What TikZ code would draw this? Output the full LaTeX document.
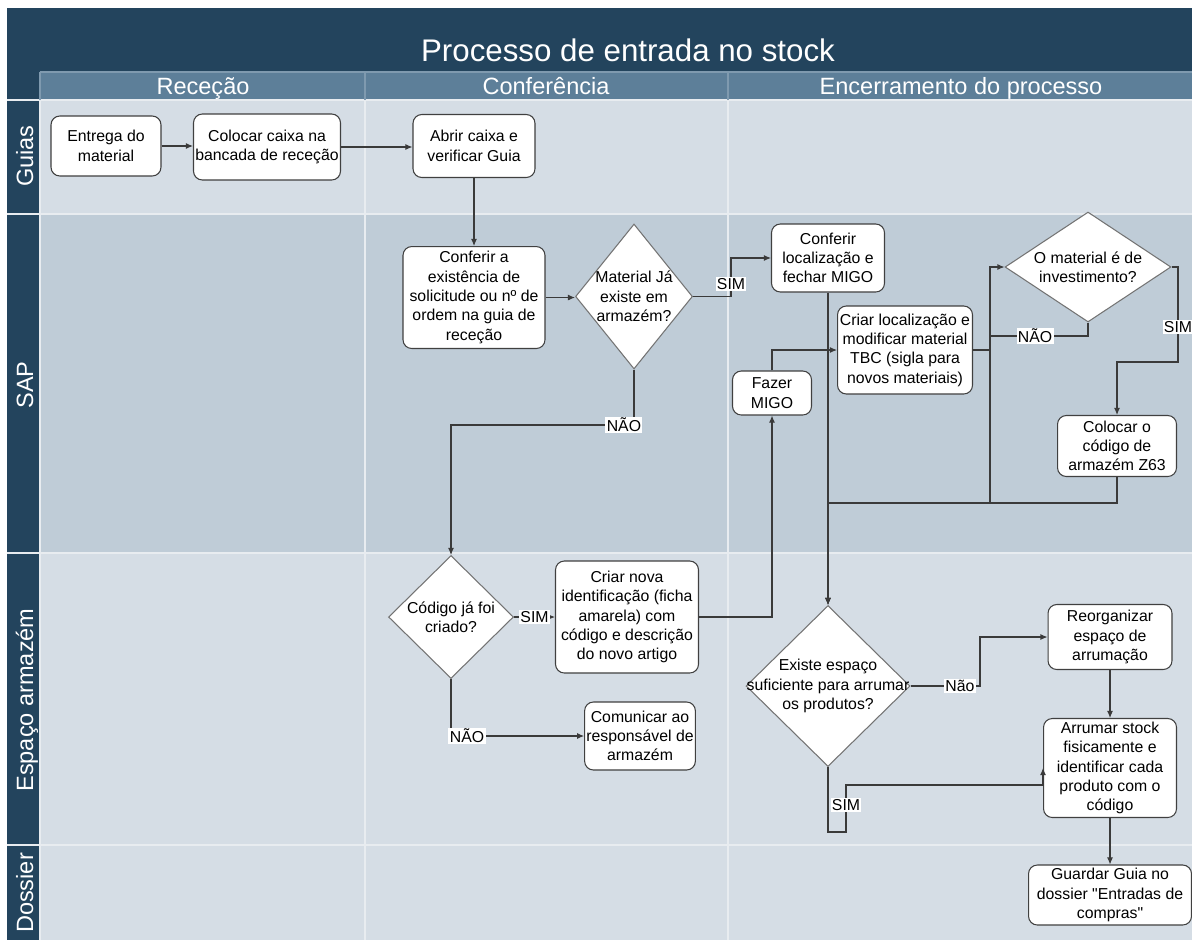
\documentclass[tikz,border=0pt]{standalone}
\usepackage{fontspec}
\setmainfont{Liberation Sans}
\usepackage{xcolor}
\usepackage{tikz}
\usetikzlibrary{shapes.geometric,arrows.meta,positioning,calc}

\definecolor{pooldark}{HTML}{23445D}
\definecolor{headfill}{HTML}{5D7F99}
\definecolor{headline}{HTML}{7F9AAF}
\definecolor{rowlight}{HTML}{D5DDE5}
\definecolor{rowdark}{HTML}{BFCCD7}
\definecolor{gridline}{HTML}{E8ECF0}
\definecolor{flowline}{HTML}{3A3A3A}

\begin{document}
\begin{tikzpicture}[
    x=0.02cm, y=-0.02cm,
    >={Latex[length=4pt, width=3.4pt]},
    box/.style={
        rectangle, draw=black!75, fill=white, rounded corners=5pt,
        align=center, inner sep=1pt, line width=0.6pt,
        font=\fontsize{9}{11}\selectfont
    },
    decision/.style={
        diamond, draw=black!55, fill=white, inner sep=0pt, line width=0.6pt
    },
    dtext/.style={align=center, font=\fontsize{9}{11}\selectfont},
    tag/.style={fill=white, inner sep=0.8pt, font=\fontsize{9}{11}\selectfont},
    flow/.style={draw=flowline, line width=0.6pt, ->},
    colhead/.style={text=white, anchor=base, font=\fontsize{13.4}{16}\selectfont},
    lanehead/.style={text=white, anchor=base, rotate=90, font=\fontsize{13.4}{16}\selectfont}
]

    % Pool frame
    \useasboundingbox (0,0) rectangle (1192,940);
    \fill[white] (0,0) rectangle (1192,940);
    \fill[pooldark] (7,8) rectangle (1192,940);
    \fill[headfill] (40,72) rectangle (1192,100);
    \fill[rowlight] (40,100) rectangle (1192,214);
    \fill[rowdark] (40,214) rectangle (1192,553);
    \fill[rowlight] (40,553) rectangle (1192,845);
    \fill[rowlight] (40,845) rectangle (1192,940);
    \draw[gridline, line width=1.2pt] (7,100) -- (1192,100) (7,214) -- (1192,214)
        (7,553) -- (1192,553) (7,845) -- (1192,845);
    \draw[gridline, line width=1.2pt] (40,100) -- (40,940) (365,100) -- (365,940) (728,100) -- (728,940);
    \draw[headline, line width=1pt] (40,72) -- (1192,72) (40,72) -- (40,100)
        (365,72) -- (365,100) (728,72) -- (728,100);

    % Titles
    \node[text=white, anchor=base, font=\fontsize{17.8}{20}\selectfont] (title) at (628,61) {Processo de entrada no stock};
    \node[colhead] (hrec) at (203,94) {Receção};
    \node[colhead] (hconf) at (546,94) {Conferência};
    \node[colhead] (henc) at (961,94) {Encerramento do processo};

    \node[lanehead] (lguias) at (33,156) {Guias};
    \node[lanehead] (lsap) at (33,385) {SAP};
    \node[lanehead] (larm) at (33,700) {Espaço armazém};
    \node[lanehead] (ldos) at (33,893) {Dossier};

    % Guias
    \node[box, minimum width=2.2cm, minimum height=1.2cm] (entrega) at (106,146) {Entrega do\\material};
    \node[box, minimum width=2.94cm, minimum height=1.32cm] (colocar) at (267,147) {Colocar caixa na\\bancada de receção};
    \node[box, minimum width=2.44cm, minimum height=1.26cm] (abrir) at (474,146) {Abrir caixa e\\verificar Guia};

    % SAP
    \node[box, minimum width=2.84cm, minimum height=2.04cm, below=1.36cm of abrir] (conferir) {Conferir a\\existência de\\solicitude ou nº de\\ordem na guia de\\receção};
    \node[decision, minimum width=2.34cm, minimum height=2.9cm,
        label={[dtext]center:Material Já\\existe em\\armazém?}] (material) at (634,296.5) {};
    \node[box, minimum width=2.26cm, minimum height=1.36cm] (conferirloc) at (828,258) {Conferir\\localização e\\fechar MIGO};
    \node[box, minimum width=2.7cm, minimum height=1.76cm] (criarloc) at (905,350) {Criar localização e\\modificar material\\TBC (sigla para\\novos materiais)};
    \node[box, minimum width=1.58cm, minimum height=0.88cm] (fazer) at (772,393) {Fazer\\MIGO};
    \node[decision, minimum width=3.32cm, minimum height=2.2cm,
        label={[dtext]center:O material é de\\investimento?}] (invest) at (1088,267) {};
    \node[box, minimum width=2.38cm, minimum height=1.22cm] (z63) at (1117,446) {Colocar o\\código de\\armazém Z63};

    % Espaço armazém
    \node[decision, minimum width=2.5cm, minimum height=2.46cm,
        label={[dtext]center:Código já foi\\criado?}] (codigo) at (451,617) {};
    \node[box, minimum width=2.86cm, minimum height=2.24cm] (criarnova) at (627,617) {Criar nova\\identificação (ficha\\amarela) com\\código e descrição\\do novo artigo};
    \node[box, minimum width=2.18cm, minimum height=1.36cm] (comunicar) at (640,736) {Comunicar ao\\responsável de\\armazém};
    \node[decision, minimum width=3.28cm, minimum height=3.22cm,
        label={[dtext]center:Existe espaço\\suficiente para arrumar\\os produtos?}] (espaco) at (828,686) {};
    \node[box, minimum width=2.48cm, minimum height=1.3cm] (reorganizar) at (1110,637) {Reorganizar\\espaço de\\arrumação};
    \node[box, minimum width=2.66cm, minimum height=1.98cm] (arrumar) at (1110,768) {Arrumar stock\\fisicamente e\\identificar cada\\produto com o\\código};

    % Dossier
    \node[box, minimum width=3.26cm, minimum height=1.2cm] (guardar) at (1110,895) {Guardar Guia no\\dossier \textquotedbl Entradas de\\compras\textquotedbl};

    % Arrows
    \draw[flow] (entrega.east) -- (entrega.east -| colocar.west);
    \draw[flow] (colocar.east) -- (colocar.east -| abrir.west);
    \draw[flow] (abrir.south) -- (conferir.north);
    \draw[flow] (conferir.east) -- (conferir.east -| material.west);
    \draw[flow] (material.east) -- (731,296.5) -- node[tag, pos=0.32]{SIM} (731,258) -- (conferirloc.west);
    \draw[flow] (material.south) -- (634,425) -- node[tag, pos=0.055]{NÃO} (451,425) -- (codigo.north);

    \draw[flow] (conferirloc.south) -- (espaco.north);
    \draw[flow] (criarloc.east) -- (990,350) |- (invest.west);
    \draw[flow] (invest.south) -- (1088,336) -- node[tag, pos=0.54]{NÃO} (990,336) -- (990,503) -| (espaco.north);
    \draw[flow] (invest.east) -- (1178,267) -- node[tag, pos=0.63]{SIM} (1178,362) -| (z63.north);
    \draw[flow] (z63.south) -- (1117,503) -| (espaco.north);

    \draw[flow] (codigo.east) -- node[tag]{SIM} (criarnova.west);
    \draw[flow] (codigo.south) |- node[tag, pos=0.56]{NÃO} (comunicar.west);
    \draw[flow] (criarnova.east) -| (fazer.south);
    \draw[flow] (fazer.north) |- (criarloc.west);

    \draw[flow] (espaco.east) -- node[tag, pos=0.71]{Não} (980,686) |- (reorganizar.west);
    \draw[flow] (reorganizar.south) -- (arrumar.north);
    \draw[flow] (espaco.south) -- (828,832) -- (846,832) -- node[tag, pos=0.57]{SIM} (846,785) -| (arrumar.west);
    \draw[flow] (arrumar.south) -- (guardar.north);

\end{tikzpicture}
\end{document}
